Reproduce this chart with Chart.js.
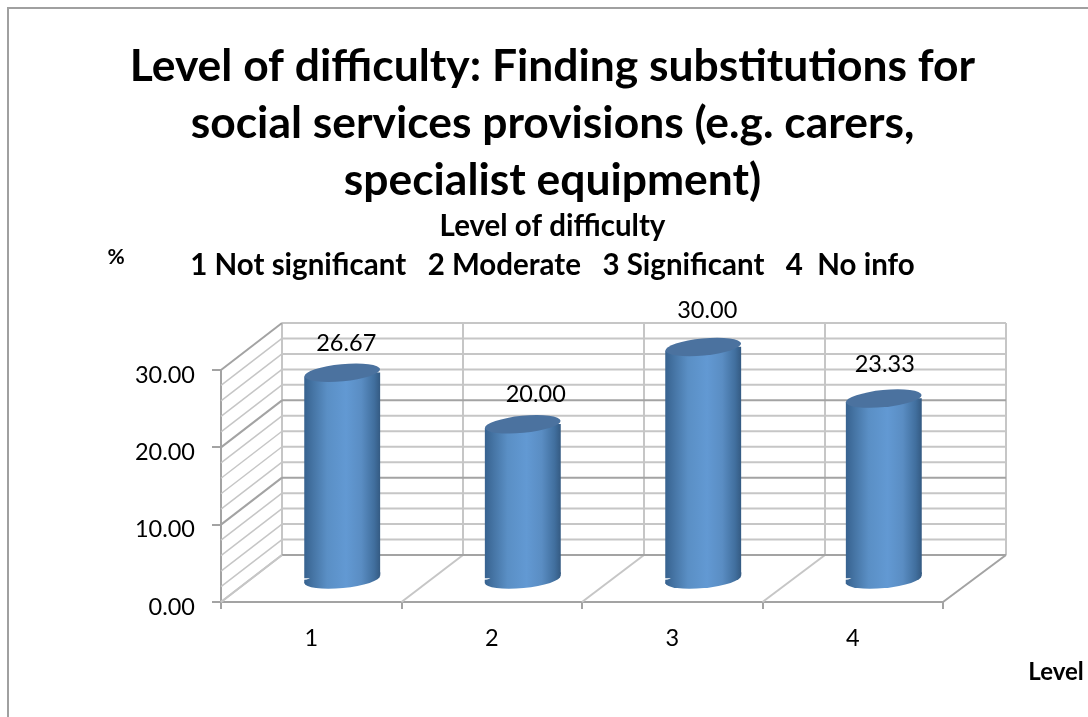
<!DOCTYPE html>
<html>
<head>
<meta charset="utf-8">
<title>Level of difficulty</title>
<script src="https://cdn.jsdelivr.net/npm/chart.js@4"></script>
<style>
  html, body { margin: 0; padding: 0; background: #fff; overflow: hidden; }
  canvas { display: block; }
</style>
</head>
<body>
<canvas id="difficultyChart" width="1088" height="717"></canvas>
<script>
const categories = ['1', '2', '3', '4'];
const values = [26.67, 20.00, 30.00, 23.33];
const titleLines = [
    'Level of difficulty: Finding substitutions for',
    'social services provisions (e.g. carers,',
    'specialist equipment)'
];
const subtitleLines = [
    'Level of difficulty',
    '1 Not significant   2 Moderate   3 Significant   4  No info'
];
const yAxisName = '%';
const xAxisName = 'Level';
const yMax = 30;
const yMajorStep = 10;
const yMinorStep = 2;

const FONT = 'Lato, "Open Sans", sans-serif';
const LIGHT_GRID = '#c6c6c6';
const DARK_GRID = '#a3a3a3';

// The chart is a fake 3D one: the scales are the front plane, the walls go back by this much
const DEPTH_X_LEFT = 61;
const DEPTH_X_RIGHT = 63;
const DEPTH_Y = -47;
// Bars stand halfway into the depth
const BAR_SHIFT_X = 31;
const BAR_SHIFT_Y = -23;
const BAR_WIDTH = 76;
const BASE_DROP = 1.5;
const CAP_RY = 8.5;
const CAP_TILT = -5.5 * Math.PI / 180;
// Hand placed data labels, as in the original, relative to the top of each bar
const LABEL_NUDGE = [[4, -29], [13, -30], [4, -37], [1, -34]];

function line(ctx, x1, y1, x2, y2, color, width) {
    ctx.strokeStyle = color;
    ctx.lineWidth = width;
    ctx.beginPath();
    ctx.moveTo(x1, y1);
    ctx.lineTo(x2, y2);
    ctx.stroke();
}

function cylinderGradient(ctx, cx) {
    const half = BAR_WIDTH / 2;
    const g = ctx.createLinearGradient(cx - half, 0, cx + half, 0);
    g.addColorStop(0, '#37628f');
    g.addColorStop(0.12, '#4675a5');
    g.addColorStop(0.3, '#5a8fc5');
    g.addColorStop(0.55, '#6299d3');
    g.addColorStop(0.75, '#5a8dc3');
    g.addColorStop(0.92, '#416f9e');
    g.addColorStop(1, '#345a82');
    return g;
}

function ellipse(ctx, cx, cy, fill) {
    ctx.fillStyle = fill;
    ctx.beginPath();
    ctx.ellipse(cx, cy, BAR_WIDTH / 2, CAP_RY, CAP_TILT, 0, Math.PI * 2);
    ctx.fill();
}

const wallsPlugin = {
    id: 'walls',
    beforeDraw(chart) {
        const ctx = chart.ctx;
        ctx.save();
        ctx.strokeStyle = '#a0a0a0';
        ctx.lineWidth = 2;
        ctx.strokeRect(8, 8, chart.width + 20, chart.height + 20);
        ctx.restore();
    },
    beforeDatasetsDraw(chart) {
        const ctx = chart.ctx;
        const { x: xScale, y: yScale } = chart.scales;
        const left = xScale.left;
        const right = xScale.right;
        const backLeft = left + DEPTH_X_LEFT;
        const backRight = right + DEPTH_X_RIGHT;
        const bottom = yScale.getPixelForValue(0);
        const top = yScale.getPixelForValue(yMax);
        ctx.save();
        ctx.lineCap = 'butt';

        // floor and back wall verticals at every category boundary
        const count = categories.length;
        for (let i = 0; i <= count; i++) {
            const x = left + (right - left) * i / count;
            const bx = backLeft + (backRight - backLeft) * i / count;
            line(ctx, bx, bottom + DEPTH_Y, bx, top + DEPTH_Y, LIGHT_GRID, 2);
            line(ctx, x, bottom, bx, bottom + DEPTH_Y, i === count ? DARK_GRID : LIGHT_GRID, 2);
        }

        // walls, minor lines first so the major ones stay on top
        const steps = [];
        for (let v = 0; v <= yMax; v += yMinorStep) steps.push(v);
        steps.sort((a, b) => (a % yMajorStep === 0) - (b % yMajorStep === 0));
        steps.forEach(v => {
            const y = yScale.getPixelForValue(v);
            const major = v % yMajorStep === 0;
            const backColor = major && v !== yMax ? DARK_GRID : LIGHT_GRID;
            const sideColor = major && v !== 0 ? DARK_GRID : LIGHT_GRID;
            line(ctx, backLeft, y + DEPTH_Y, backRight, y + DEPTH_Y, backColor, 2);
            line(ctx, left, y, backLeft, y + DEPTH_Y, sideColor, major ? 2 : 1.5);
        });
        ctx.restore();
    },
    beforeDatasetDraw(chart, args) {
        const ctx = chart.ctx;
        const half = BAR_WIDTH / 2;
        const dy = Math.sin(-CAP_TILT) * half;
        ctx.save();
        ctx.translate(BAR_SHIFT_X, BAR_SHIFT_Y);
        // bottom of each cylinder, then clip the square bar ends to the tilted caps
        args.meta.data.forEach(bar => {
            const g = cylinderGradient(ctx, bar.x);
            const foot = bar.base + BASE_DROP;
            ellipse(ctx, bar.x, foot, g);
            ctx.fillStyle = g;
            ctx.beginPath();
            ctx.moveTo(bar.x - half, foot + dy);
            ctx.lineTo(bar.x + half, foot - dy);
            ctx.lineTo(bar.x + half, bar.base - dy - 2);
            ctx.lineTo(bar.x - half, bar.base + dy - 2);
            ctx.closePath();
            ctx.fill();
        });
        ctx.beginPath();
        args.meta.data.forEach(bar => {
            ctx.moveTo(bar.x - half, bar.y + dy);
            ctx.lineTo(bar.x + half, bar.y - dy);
            ctx.lineTo(bar.x + half, bar.base - dy);
            ctx.lineTo(bar.x - half, bar.base + dy);
            ctx.closePath();
        });
        ctx.clip();
    },
    afterDatasetDraw(chart, args) {
        const ctx = chart.ctx;
        ctx.restore();
        ctx.save();
        ctx.translate(BAR_SHIFT_X, BAR_SHIFT_Y);
        args.meta.data.forEach(bar => {
            ellipse(ctx, bar.x, bar.y, '#4b729f');
        });
        ctx.restore();

        // data labels
        ctx.save();
        ctx.fillStyle = '#000';
        ctx.font = '23.5px ' + FONT;
        ctx.textAlign = 'center';
        ctx.textBaseline = 'middle';
        args.meta.data.forEach((bar, i) => {
            const nudge = LABEL_NUDGE[i];
            ctx.fillText(values[i].toFixed(2), bar.x + BAR_SHIFT_X + nudge[0], bar.y + BAR_SHIFT_Y + nudge[1]);
        });

        // axis names
        ctx.font = 'bold 21px ' + FONT;
        ctx.fillText(yAxisName, 116, 257);
        ctx.font = 'bold 24px ' + FONT;
        ctx.fillText(xAxisName, 1056, 672);
        ctx.restore();
    }
};

new Chart(document.getElementById('difficultyChart'), {
    type: 'bar',
    data: {
        labels: categories,
        datasets: [{
            data: values,
            clip: false,
            borderWidth: 0,
            barThickness: BAR_WIDTH,
            backgroundColor: context => {
                const cx = context.chart.scales.x.getPixelForValue(context.dataIndex);
                if (!Number.isFinite(cx)) return '#6299d3';
                return cylinderGradient(context.chart.ctx, cx);
            }
        }]
    },
    options: {
        responsive: false,
        animation: false,
        layout: { padding: { left: 17, right: 0, top: 0, bottom: 55 } },
        plugins: {
            legend: { display: false },
            tooltip: { enabled: false },
            title: {
                display: true,
                text: titleLines,
                color: '#000',
                font: { family: FONT, size: 44.4, weight: 'bold', lineHeight: 57 / 44.4 },
                padding: { top: 38, bottom: -2 }
            },
            subtitle: {
                display: true,
                text: subtitleLines,
                color: '#000',
                font: { family: FONT, size: 29.5, weight: 'bold', lineHeight: 39 / 29.5 },
                padding: { top: 0, bottom: 85 }
            }
        },
        scales: {
            x: {
                afterFit(scale) { scale.height = 60; },
                grid: { drawOnChartArea: false, color: DARK_GRID, lineWidth: 2, tickLength: 7 },
                border: { color: DARK_GRID, width: 2 },
                ticks: { color: '#000', padding: 15, font: { family: FONT, size: 23.5 } }
            },
            y: {
                min: 0,
                max: yMax,
                afterFit(scale) { scale.width = 204; },
                // labels sit a little below their ticks in the original
                afterUpdate(scale) {
                    if (scale.labelsShifted) return;
                    scale.labelsShifted = true;
                    const drawLabels = scale.drawLabels.bind(scale);
                    scale.drawLabels = area => {
                        scale.ctx.save();
                        scale.ctx.translate(0, 5);
                        drawLabels(area);
                        scale.ctx.restore();
                    };
                },
                grid: { drawOnChartArea: false, color: DARK_GRID, lineWidth: 2, tickLength: 9 },
                border: { color: DARK_GRID, width: 2 },
                ticks: {
                    stepSize: yMajorStep,
                    color: '#000',
                    padding: 17,
                    font: { family: FONT, size: 23.5 },
                    callback: value => value.toFixed(2)
                }
            },
            // empty axis, only there to keep the title centred on the whole picture
            spacer: {
                type: 'linear',
                position: 'right',
                afterFit(scale) { scale.width = 145; },
                grid: { display: false },
                border: { display: false },
                ticks: { display: false }
            }
        }
    },
    plugins: [wallsPlugin]
});
</script>
</body>
</html>
